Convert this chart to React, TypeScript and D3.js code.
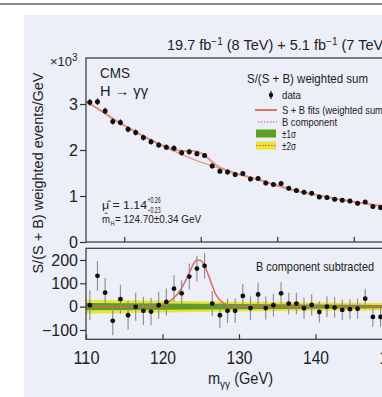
import { useEffect, useRef } from "react";
import * as d3 from "d3";

const W = 382;
const H = 397;

// bin centres in GeV
const massBins = [
  110.5, 111.5, 112.5, 113.5, 114.5, 115.5, 116.5, 117.5, 118.5, 119.5,
  120.5, 121.5, 122.5, 123.5, 124.5, 125.5, 126.5, 127.5, 128.5, 129.5,
  130.5, 131.5, 132.5, 133.5, 134.5, 135.5, 136.5, 137.5, 138.5, 139.5,
  140.5, 141.5, 142.5, 143.5, 144.5, 145.5, 146.5, 147.5, 148.5, 149.5,
];
// weighted events / GeV (x10^3)
const weighted = [
  3.04, 3.05, 2.85, 2.62, 2.6, 2.45, 2.38, 2.27, 2.18, 2.11,
  2.06, 2.04, 1.94, 1.96, 1.92, 1.88, 1.65, 1.54, 1.52, 1.47,
  1.49, 1.37, 1.38, 1.28, 1.25, 1.27, 1.17, 1.12, 1.08, 1.06,
  0.98, 0.97, 0.93, 0.91, 0.89, 0.84, 0.87, 0.77, 0.75, 0.73,
];
const weightedErr = [
  0.07, 0.07, 0.068, 0.066, 0.065, 0.064, 0.063, 0.062, 0.061, 0.06,
  0.059, 0.058, 0.057, 0.057, 0.056, 0.055, 0.054, 0.053, 0.053, 0.052,
  0.052, 0.051, 0.05, 0.05, 0.049, 0.049, 0.048, 0.048, 0.047, 0.047,
  0.046, 0.046, 0.045, 0.045, 0.045, 0.044, 0.044, 0.044, 0.043, 0.043,
];
// B component subtracted
const subtracted = [
  6, 132, 60, -61, 32, -37, -1, -18, -21, 6,
  20, 77, 57, 129, 163, 175, 13, -37, -18, -18,
  46, -6, 52, -6, 6, 57, 13, 13, -7, 7,
  -23, 0, -4, -14, -11, -9, 34, -44, -44, -20,
];
const subtractedErr = [
  64, 64, 63, 62, 62, 61, 60, 60, 59, 58,
  58, 57, 56, 56, 55, 54, 54, 53, 52, 52,
  51, 50, 50, 49, 48, 48, 47, 47, 46, 46,
  45, 45, 44, 44, 43, 43, 43, 42, 42, 42,
];

// fitted curves
const bkgMass = [110, 112, 114, 116, 118, 120, 122, 124, 126, 128, 130, 132, 134, 136, 138, 140, 142, 144, 146, 148, 150];
const bkgFit = [3.06, 2.85, 2.63, 2.44, 2.26, 2.09, 1.94, 1.8, 1.68, 1.57, 1.47, 1.38, 1.28, 1.18, 1.09, 1.03, 0.96, 0.9, 0.85, 0.8, 0.76];
const sigMass = [110, 118, 119, 120, 121, 122, 123, 123.5, 124, 124.5, 125, 125.5, 126, 126.5, 127, 128, 129, 130, 150];
const sigFit = [0, 0, 2, 8, 25, 55, 110, 145, 180, 200, 198, 175, 135, 90, 50, 14, 3, 0, 0];

// background uncertainty bands (events/GeV)
const bandMass = [110, 120, 130, 140, 150];
const band1 = [16, 13, 11, 9, 7];
const band2 = [30, 25, 21, 18, 15];

const upperTicks = [0, 1, 2, 3];
const lowerTicks = [-100, 0, 100, 200];
const massTicks = [110, 120, 130, 140, 150];
const upperMassTicks = [115, 125, 135, 145];

const SANS = "'Liberation Sans', Arial, sans-serif";

export default function App() {
  const svgRef = useRef<SVGSVGElement>(null);

  useEffect(() => {
    document.body.style.margin = "0";
    const svg = d3.select(svgRef.current);
    svg.selectAll("*").remove();

    const x = d3.scaleLinear().domain([110, 150]).range([86, 392]);
    const yUp = d3.scaleLinear().domain([0, 4]).range([242, 58]);
    const yLo = d3.scaleLinear().domain([-140, 250]).range([339.3, 248.3]);
    const bkgAt = d3.scaleLinear().domain(bkgMass).range(bkgFit);
    const sigAt = d3.scaleLinear().domain(sigMass).range(sigFit);

    // page background
    svg.append("rect").attr("width", W).attr("height", H).attr("fill", "#fff");
    svg.append("line").attr("x1", 0).attr("x2", W).attr("y1", 4).attr("y2", 4)
      .attr("stroke", "#8c8c8c").attr("stroke-width", 2);
    svg.append("rect").attr("x", 24).attr("y", 15).attr("width", W - 24).attr("height", H - 15)
      .attr("fill", "#eceef8");

    const defs = svg.append("defs");
    defs.append("clipPath").attr("id", "clipUp").append("rect")
      .attr("x", 86).attr("y", 58).attr("width", 306).attr("height", 184);
    defs.append("clipPath").attr("id", "clipLo").append("rect")
      .attr("x", 86).attr("y", 248.3).attr("width", 306).attr("height", 91);

    // ---------- upper panel ----------
    const up = svg.append("g").attr("clip-path", "url(#clipUp)");
    const bLine = d3.line<number>().x((m) => x(m)).y((m) => yUp(bkgAt(m))).curve(d3.curveMonotoneX);
    up.append("path").attr("d", bLine(bkgMass)).attr("fill", "none")
      .attr("stroke", "#e9897d").attr("stroke-width", 1.2);

    const dense = Array.from(new Set([...bkgMass, ...sigMass])).sort((a, b) => a - b);
    const sbLine = d3.line<number>().x((m) => x(m)).y((m) => yUp(bkgAt(m) + sigAt(m) / 1000)).curve(d3.curveMonotoneX);
    up.append("path").attr("d", sbLine(dense)).attr("fill", "none")
      .attr("stroke", "#ea8a7e").attr("stroke-width", 2).attr("opacity", 0.9);

    const upPts = up.selectAll("g.pt").data(massBins).enter().append("g");
    upPts.append("line")
      .attr("x1", (m) => x(m)).attr("x2", (m) => x(m))
      .attr("y1", (_, i) => yUp(weighted[i] - weightedErr[i]))
      .attr("y2", (_, i) => yUp(weighted[i] + weightedErr[i]))
      .attr("stroke", "#111").attr("stroke-width", 1.2);
    upPts.append("circle").attr("cx", (m) => x(m)).attr("cy", (_, i) => yUp(weighted[i]))
      .attr("r", 2.5).attr("fill", "#111");

    // ---------- lower panel ----------
    const lo = svg.append("g").attr("clip-path", "url(#clipLo)");
    const bandArea = (vals: number[]) =>
      d3.area<number>().x((m) => x(m))
        .y0((_, i) => yLo(-vals[i])).y1((_, i) => yLo(vals[i]))
        .curve(d3.curveMonotoneX)(bandMass);
    lo.append("path").attr("d", bandArea(band2)).attr("fill", "#e9e43a");
    lo.append("path").attr("d", bandArea(band1)).attr("fill", "#55a322");
    lo.append("line").attr("x1", 86).attr("x2", 392).attr("y1", yLo(0)).attr("y2", yLo(0))
      .attr("stroke", "#e0503f").attr("stroke-width", 1).attr("stroke-dasharray", "1.5,1.5");

    const sLine = d3.line<number>().x((m) => x(m)).y((m) => yLo(sigAt(m))).curve(d3.curveMonotoneX);
    lo.append("path").attr("d", sLine(sigMass)).attr("fill", "none")
      .attr("stroke", "#e0605a").attr("stroke-width", 1.6).attr("opacity", 0.9);

    const loPts = lo.selectAll("g.pt").data(massBins).enter().append("g");
    loPts.append("line")
      .attr("x1", (m) => x(m)).attr("x2", (m) => x(m))
      .attr("y1", (_, i) => yLo(subtracted[i] - subtractedErr[i]))
      .attr("y2", (_, i) => yLo(subtracted[i] + subtractedErr[i]))
      .attr("stroke", "#8a8a8a").attr("stroke-width", 1.1);
    loPts.append("circle").attr("cx", (m) => x(m)).attr("cy", (_, i) => yLo(subtracted[i]))
      .attr("r", 2.4).attr("fill", "#111");

    // ---------- frames & axes ----------
    svg.append("rect").attr("x", 86).attr("y", 58).attr("width", 306).attr("height", 184)
      .attr("fill", "none").attr("stroke", "#333").attr("stroke-width", 1.2);
    svg.append("rect").attr("x", 86).attr("y", 248.3).attr("width", 306).attr("height", 91)
      .attr("fill", "none").attr("stroke", "#333").attr("stroke-width", 1.2);

    const styleAxis = (g: any, size: number) => {
      g.select(".domain").remove();
      g.selectAll("line").attr("stroke", "#333").attr("stroke-width", 1.2);
      g.selectAll("text").attr("fill", "#222").style("font-size", `${size}px`).style("font-family", SANS);
    };

    svg.append("g").attr("transform", "translate(86,0)")
      .call(d3.axisLeft(yUp).tickValues(upperTicks).tickSize(6).tickPadding(2).tickFormat(d3.format("d")))
      .call((g) => styleAxis(g, 16));
    svg.append("g").attr("transform", "translate(86,0)")
      .call(d3.axisLeft(yLo).tickValues(lowerTicks).tickSize(6).tickPadding(2).tickFormat(d3.format("d")))
      .call((g) => styleAxis(g, 16));
    svg.append("g").attr("transform", "translate(0,242)")
      .call(d3.axisBottom(x).tickValues(upperMassTicks).tickSizeInner(-5).tickSizeOuter(0).tickFormat(() => ""))
      .call((g) => styleAxis(g, 16));
    svg.append("g").attr("transform", "translate(0,339.3)")
      .call(d3.axisBottom(x).tickValues(massTicks).tickSizeInner(-5).tickSizeOuter(0).tickPadding(11).tickFormat(d3.format("d")))
      .call((g) => {
        styleAxis(g, 19);
        g.selectAll("text").attr("textLength", 26).attr("lengthAdjust", "spacingAndGlyphs");
      });

    // ---------- texts ----------
    const txt = (xx: number, yy: number, size: number, len?: number) => {
      const t = svg.append("text").attr("x", xx).attr("y", yy).attr("fill", "#222")
        .style("font-size", `${size}px`).style("font-family", SANS);
      if (len) t.attr("textLength", len).attr("lengthAdjust", "spacingAndGlyphs");
      return t;
    };

    const mul = txt(50, 66, 13);
    mul.append("tspan").text("\u00d710");
    mul.append("tspan").attr("dy", -5).style("font-size", "10px").text("3");

    const head = txt(167, 50, 14.5);
    head.append("tspan").text("19.7 fb");
    head.append("tspan").attr("dy", -5).style("font-size", "10px").text("\u22121");
    head.append("tspan").attr("dy", 5).text(" (8 TeV) + 5.1 fb");
    head.append("tspan").attr("dy", -5).style("font-size", "10px").text("\u22121");
    head.append("tspan").attr("dy", 5).text(" (7 TeV)");

    txt(100, 78, 15, 30).text("CMS");
    txt(100, 96, 14, 48).text("H \u2192 \u03b3\u03b3");

    txt(102, 209, 11.5, 45).text("\u03bc\u0302 = 1.14");
    txt(147.5, 203, 8.5, 13).text("+0.26");
    txt(147.5, 212.5, 8.5, 13).text("\u22120.23");
    txt(102, 223, 11.5, 8).text("m\u0302");
    txt(110.5, 226, 7.5, 4).text("H");
    txt(115, 223, 11.5, 86).text(" = 124.70\u00b10.34 GeV");

    // legend
    txt(247, 83, 13, 121).text("S/(S + B) weighted sum");
    svg.append("line").attr("x1", 271).attr("x2", 271).attr("y1", 91).attr("y2", 99)
      .attr("stroke", "#111").attr("stroke-width", 1.2);
    svg.append("circle").attr("cx", 271).attr("cy", 95).attr("r", 2.2).attr("fill", "#111");
    txt(282, 98.5, 11, 19).text("data");
    svg.append("line").attr("x1", 255).attr("x2", 277).attr("y1", 110).attr("y2", 110)
      .attr("stroke", "#e0503f").attr("stroke-width", 1.6);
    txt(282, 113.5, 11, 104).text("S + B fits (weighted sum)");
    svg.append("line").attr("x1", 258).attr("x2", 277).attr("y1", 122).attr("y2", 122)
      .attr("stroke", "#e0503f").attr("stroke-width", 1).attr("stroke-dasharray", "1.5,1.5");
    txt(282, 125.5, 11, 55).text("B component");
    svg.append("rect").attr("x", 256).attr("y", 129.5).attr("width", 20).attr("height", 8).attr("fill", "#55a322");
    svg.append("line").attr("x1", 256).attr("x2", 276).attr("y1", 133.5).attr("y2", 133.5)
      .attr("stroke", "#e0503f").attr("stroke-width", 1).attr("stroke-dasharray", "1.5,1.5");
    txt(282, 137.5, 11, 14).text("\u00b11\u03c3");
    svg.append("rect").attr("x", 256).attr("y", 141.5).attr("width", 20).attr("height", 8).attr("fill", "#e9e43a");
    svg.append("line").attr("x1", 256).attr("x2", 276).attr("y1", 145.5).attr("y2", 145.5)
      .attr("stroke", "#e0503f").attr("stroke-width", 1).attr("stroke-dasharray", "1.5,1.5");
    txt(282, 149.5, 11, 14).text("\u00b12\u03c3");

    txt(256, 271, 13, 118).text("B component subtracted");

    // axis titles
    svg.append("text").attr("transform", "translate(43,173) rotate(-90)")
      .attr("text-anchor", "middle").attr("fill", "#222")
      .style("font-size", "14.5px").style("font-family", SANS)
      .text("S/(S + B) weighted events/GeV");

    const xl = txt(208, 384, 16, 65);
    xl.append("tspan").text("m");
    xl.append("tspan").attr("dy", 4).style("font-size", "11px").text("\u03b3\u03b3");
    xl.append("tspan").attr("dy", -4).text(" (GeV)");
  }, []);

  return <svg ref={svgRef} width={W} height={H} style={{ display: "block" }}></svg>;
}
